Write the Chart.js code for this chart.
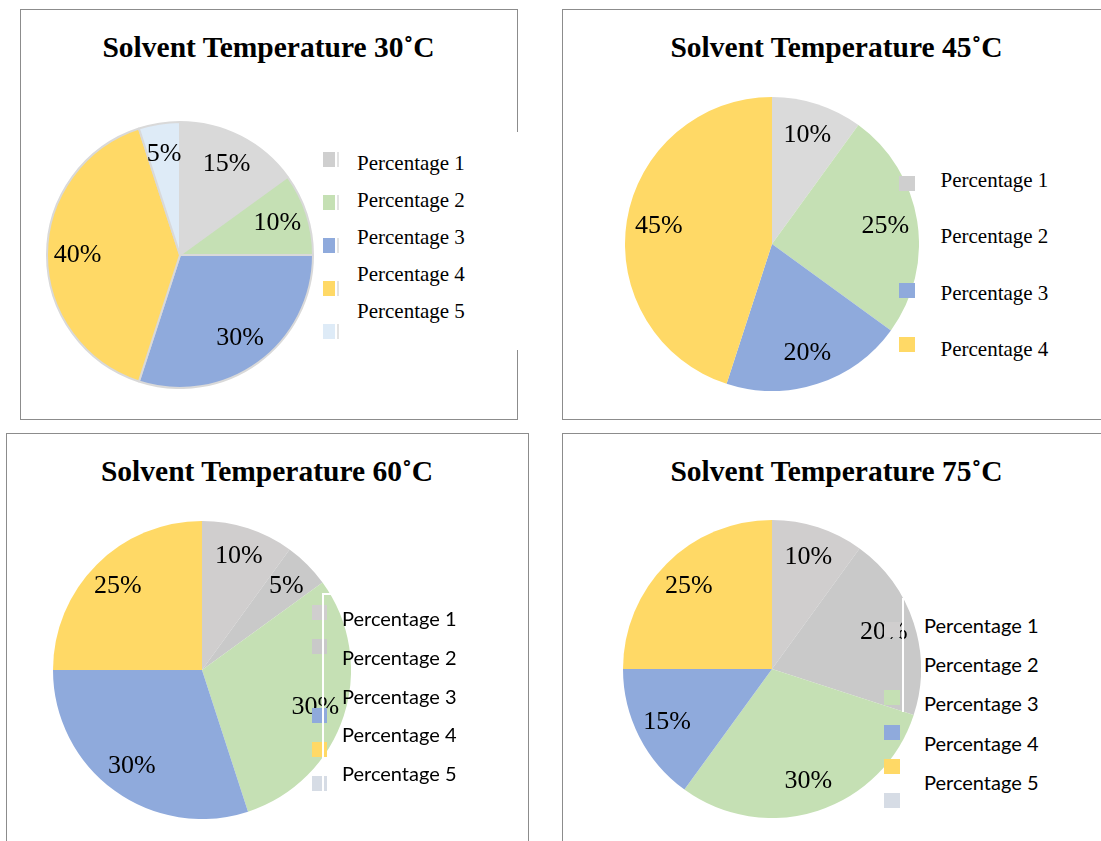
<!DOCTYPE html>
<html><head><meta charset="utf-8">
<script src="https://cdn.jsdelivr.net/npm/chart.js@4/dist/chart.umd.min.js"></script>
<style>
html,body{margin:0;padding:0;background:#fff;}
body{width:1101px;height:841px;position:relative;overflow:hidden;font-family:"Liberation Serif","Times New Roman",serif;}
.panel{position:absolute;border:1px solid #8c8c8c;box-sizing:border-box;}
.title{position:absolute;font-weight:bold;font-size:29.5px;white-space:nowrap;transform:translate(-50%,-50%);color:#000;line-height:1;}
.box{position:absolute;}
.sw{position:absolute;}
.lt{position:absolute;white-space:nowrap;transform:translateY(-50%);color:#000;line-height:1;}
.wl{position:absolute;background:#fff;}
</style></head><body>
<script>
// ---- data ----
const titles = ["Solvent Temperature 30˚C", "Solvent Temperature 45˚C", "Solvent Temperature 60˚C", "Solvent Temperature 75˚C"];
const categories30 = ["Percentage 1", "Percentage 2", "Percentage 3", "Percentage 4", "Percentage 5"];
const categories45 = ["Percentage 1", "Percentage 2", "Percentage 3", "Percentage 4"];
const categories60 = ["Percentage 1", "Percentage 2", "Percentage 3", "Percentage 4", "Percentage 5"];
const categories75 = ["Percentage 1", "Percentage 2", "Percentage 3", "Percentage 4", "Percentage 5"];
const values30 = [15, 10, 30, 40, 5];
const values45 = [10, 25, 20, 45];
const values60 = [10, 5, 30, 30, 25];
const values75 = [10, 20, 30, 15, 25];

// ---- styles ----
const sliceColors30 = ["#d9d9d9", "#c5e0b4", "#8faadc", "#ffd966", "#deebf7"];
const sliceColors45 = ["#dadada", "#c5e0b4", "#8faadc", "#ffd966"];
const sliceColors60 = ["#d0cece", "#c9c9c9", "#c5e0b4", "#8faadc", "#ffd966"];
const sliceColors75 = ["#d0cece", "#c9c9c9", "#c5e0b4", "#8faadc", "#ffd966"];
const swatches30 = ["#cfcfcf", "#c5e0b4", "#8faadc", "#ffd966", "#deebf7"];
const swatches45 = ["#cfcfcf", null, "#8faadc", "#ffd966"];
const swatches60 = ["#d0cece", "#c9c9c9", "#c5e0b4", "#8faadc", "#ffd966", "#d6dce5"];
const swatches75 = ["#d0cece", "#c9c9c9", "#c5e0b4", "#8faadc", "#ffd966", "#d6dce5"];

const panels = [
  {left:20, top:9, w:498, h:411},
  {left:562, top:9, w:600, h:411},
  {left:6, top:433, w:523, h:420},
  {left:562, top:433, w:600, h:420}
];
const charts = [
  {title:titles[0], tx:268.5, ty:48, cats:categories30, vals:values30, colors:sliceColors30, sw:swatches30,
   cx:180, cy:255, r:134, border:2, borderColor:"#d9d9d9", factor:0.77,
   swX:323, swW:12, swH:15, swTop:152, swStep:43, stripe:true,
   txX:357, txTop:163, txStep:37, font:'21px "Liberation Serif", serif'},
  {title:titles[1], tx:836.5, ty:48, cats:categories45, vals:values45, colors:sliceColors45, sw:swatches45,
   cx:771.5, cy:243.5, r:147, border:0, borderColor:"#fff", factor:0.78,
   swX:899, swW:16, swH:15, swTop:176, swStep:53.7, stripe:false,
   txX:940.5, txTop:180, txStep:56.3, font:'21px "Liberation Serif", serif'},
  {title:titles[2], tx:267, ty:472, cats:categories60, vals:values60, colors:sliceColors60, sw:swatches60,
   cx:202, cy:669.5, r:149, border:0, borderColor:"#fff", factor:0.8,
   swX:312, swW:15, swH:15, swTop:605, swStep:34.2, stripe:false,
   txX:342, txTop:618, txStep:38.75, font:'20px Lato, sans-serif',
   wline:{x:322, y1:593, y2:791, hx2:332}},
  {title:titles[3], tx:836.5, ty:472, cats:categories75, vals:values75, colors:sliceColors75, sw:swatches75,
   cx:772, cy:668.5, r:149, border:0, borderColor:"#fff", factor:0.79,
   swX:884, swW:16, swH:15, swTop:622, swStep:34.2, stripe:false,
   txX:924, txTop:625, txStep:39.2, font:'20px Lato, sans-serif',
   wline:{x:902, y1:598, y2:712}}
];

const pctLabels = {
  id:'pctLabels',
  afterDatasetsDraw(chart, args, opts){
    const ctx = chart.ctx;
    const meta = chart.getDatasetMeta(0);
    const data = chart.data.datasets[0].data;
    ctx.save();
    ctx.font = opts.font; ctx.fillStyle = opts.color;
    ctx.textAlign = 'center'; ctx.textBaseline = 'middle';
    meta.data.forEach((arc, i) => {
      const p = arc.getProps(['x','y','startAngle','endAngle','outerRadius'], true);
      const a = (p.startAngle + p.endAngle) / 2;
      const rr = p.outerRadius * opts.factor;
      ctx.fillText(data[i] + '%', p.x + Math.cos(a) * rr, p.y + Math.sin(a) * rr);
    });
    ctx.restore();
  }
};

function el(cls, css, parent){ const d=document.createElement('div'); d.className=cls; Object.assign(d.style, css); (parent||document.body).appendChild(d); return d; }

panels.forEach(p => el('panel', {left:p.left+'px', top:p.top+'px', width:p.w+'px', height:p.h+'px'}));
// gap in first panel's right border
el('wl', {left:'515px', top:'132px', width:'4px', height:'218px'});

charts.forEach(c => {
  const size = 2*c.r;
  const box = el('box', {left:(c.cx-c.r)+'px', top:(c.cy-c.r)+'px', width:size+'px', height:size+'px'});
  const cv = document.createElement('canvas'); box.appendChild(cv);
  new Chart(cv, {
    type:'pie',
    data:{labels:c.cats, datasets:[{data:c.vals, backgroundColor:c.colors, borderColor:c.borderColor, borderWidth:c.border, hoverBorderWidth:c.border, hoverOffset:0}]},
    options:{responsive:true, maintainAspectRatio:false, animation:false, events:[],
      layout:{padding:0},
      plugins:{legend:{display:false}, tooltip:{enabled:false}, title:{display:false},
        pctLabels:{factor:c.factor, font:'26px "Liberation Serif", serif', color:'#000'}}},
    plugins:[pctLabels]
  });
  const t = el('title', {left:c.tx+'px', top:c.ty+'px'}); t.textContent = c.title;
  c.sw.forEach((col, i) => {
    if(!col) return;
    const y = c.swTop + i*c.swStep;
    el('sw', {left:c.swX+'px', top:y+'px', width:c.swW+'px', height:c.swH+'px', background:col});
    if(c.stripe) el('sw', {left:(c.swX+c.swW+2)+'px', top:y+'px', width:'2px', height:c.swH+'px', background:'#e3e3e3'});
  });
  if(c.wline){
    el('wl', {left:c.wline.x+'px', top:c.wline.y1+'px', width:'2px', height:(c.wline.y2-c.wline.y1)+'px'});
    if(c.wline.hx2) el('wl', {left:c.wline.x+'px', top:c.wline.y1+'px', width:(c.wline.hx2-c.wline.x)+'px', height:'2px'});
  }
  c.cats.forEach((lab, i) => {
    const d = el('lt', {left:c.txX+'px', top:(c.txTop + i*c.txStep)+'px', font:c.font});
    d.textContent = lab;
  });
});
</script>
</body></html>
